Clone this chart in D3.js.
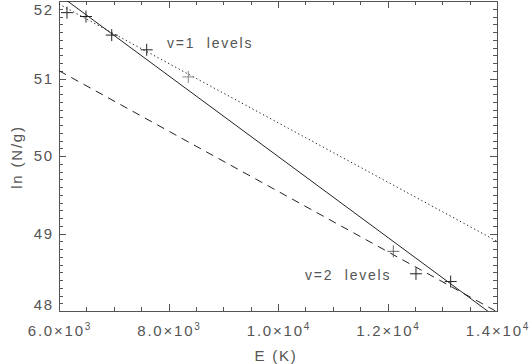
<!DOCTYPE html>
<html lang="en">
<head>
<meta charset="utf-8">
<title>ln(N/g) vs E</title>
<style>
    html, body {
        margin: 0;
        padding: 0;
        background-color: #fff;
    }
    text {
        font-family: "Liberation Sans", Arial, sans-serif;
        fill: #555;
        letter-spacing: 1.8px;
    }
    .axis path, .axis line {
        stroke: #555;
        shape-rendering: crispEdges;
    }
</style>
</head>
<body>
<div id="chart"></div>
<script src="https://d3js.org/d3.v7.min.js"></script>
<script>
// tick labels
var xTicks = [6000, 8000, 10000, 12000, 14000];
var yTicks = [48, 49, 50, 51, 52];
// measured points, v=1 and v=2 levels
var v1E = [6146, 6493, 6963, 7602, 8362];
var v1Ln = [51.85, 51.80, 51.56, 51.37, 51.02];
var v2E = [12106, 12520, 13154];
var v2Ln = [48.77, 48.48, 48.38];
// fitted lines (ends at E=6000 and E=14000)
var lineE = [6000, 14000];
var fitAll = [52.08, 47.91];
var fitV1 = [51.96, 48.90];
var fitV2 = [51.10, 47.99];
var labels = ["v=1  levels", "v=2  levels"];

var W = 532, H = 364;
var mar = {top: 1, right: 35, bottom: 53, left: 59};

var x = d3.scaleLinear().domain([6000, 14000]).range([mar.left, W - mar.right]);
var y = d3.scaleLinear().domain([48, 52]).range([H - mar.bottom, mar.top]);

var svg = d3.select("#chart").append("svg")
    .attr("width", W).attr("height", H);

svg.append("clipPath").attr("id", "clip")
    .append("rect")
    .attr("x", x.range()[0]).attr("y", y.range()[1])
    .attr("width", x.range()[1] - x.range()[0])
    .attr("height", y.range()[0] - y.range()[1]);

var minorX = d3.range(6000, 14001, 500);
var minorY = d3.range(48, 52.001, 0.1);

// axes, ticks point inward on all four sides
function addAxis(axis, tx, ty) {
    svg.append("g").attr("class", "axis")
        .attr("transform", "translate(" + tx + "," + ty + ")")
        .call(axis)
        .call(function(g) { g.selectAll("text").remove(); });
}
var yb = y.range()[0], yt = y.range()[1], xl = x.range()[0], xr = x.range()[1];
addAxis(d3.axisBottom(x).tickValues(xTicks).tickSizeInner(-7).tickSizeOuter(0), 0, yb);
addAxis(d3.axisBottom(x).tickValues(minorX).tickSizeInner(-4).tickSizeOuter(0), 0, yb);
addAxis(d3.axisTop(x).tickValues(xTicks).tickSizeInner(-7).tickSizeOuter(0), 0, yt);
addAxis(d3.axisTop(x).tickValues(minorX).tickSizeInner(-4).tickSizeOuter(0), 0, yt);
addAxis(d3.axisLeft(y).tickValues(yTicks).tickSizeInner(-7).tickSizeOuter(0), xl, 0);
addAxis(d3.axisLeft(y).tickValues(minorY).tickSizeInner(-4).tickSizeOuter(0), xl, 0);
addAxis(d3.axisRight(y).tickValues(yTicks).tickSizeInner(-7).tickSizeOuter(0), xr, 0);
addAxis(d3.axisRight(y).tickValues(minorY).tickSizeInner(-4).tickSizeOuter(0), xr, 0);

// x tick labels like 6.0x10^3
var xl_g = svg.append("g");
xTicks.forEach(function(v) {
    var s = d3.format(".1e")(v).split("e");
    var t = xl_g.append("text")
        .attr("x", x(v) + 1).attr("y", yb + 25)
        .attr("text-anchor", "middle")
        .attr("font-size", "15px");
    t.append("tspan").text(s[0] + "\u00d710");
    t.append("tspan").attr("dy", -6).attr("font-size", "10px").text(+s[1]);
});

// y tick labels (end labels pulled inside like the original)
svg.selectAll(".ylab")
    .data(yTicks)
    .enter().append("text")
    .attr("class", "ylab")
    .attr("x", xl - 5)
    .attr("y", function(d) { return Math.max(15, Math.min(310, y(d) + 5)); })
    .attr("text-anchor", "end")
    .attr("font-size", "15px")
    .text(function(d) { return d; });

// axis titles
svg.append("text")
    .attr("x", 276).attr("y", 361)
    .attr("text-anchor", "middle")
    .attr("font-size", "15px")
    .style("white-space", "pre")
    .text("E (K)");
svg.append("text")
    .attr("transform", "translate(22," + (y(50) + 1) + ") rotate(-90)")
    .attr("text-anchor", "middle")
    .attr("font-size", "15px")
    .text("ln (N/g)");

// fitted lines
var line = d3.line()
    .x(function(d) { return x(d[0]); })
    .y(function(d) { return y(d[1]); });
var plot = svg.append("g").attr("clip-path", "url(#clip)");
function fit(vals, dash) {
    plot.append("path")
        .datum(lineE.map(function(e, i) { return [e, vals[i]]; }))
        .attr("d", line)
        .attr("fill", "none")
        .attr("stroke", "#222")
        .attr("stroke-width", 1)
        .attr("stroke-dasharray", dash);
}
fit(fitAll, null);
fit(fitV1, "1.3,2.7");
fit(fitV2, "8,6");

// plus markers
var pts = v1E.map(function(e, i) { return {e: e, v: v1Ln[i], c: i == 4 ? "#888" : "#222"}; })
    .concat(v2E.map(function(e, i) { return {e: e, v: v2Ln[i], c: i == 0 ? "#666" : "#222"}; }));
svg.selectAll(".pt")
    .data(pts)
    .enter().append("path")
    .attr("class", "pt")
    .attr("d", "M-6,0H6M0,-6V6")
    .attr("transform", function(d) { return "translate(" + x(d.e) + "," + y(d.v) + ")"; })
    .attr("stroke", function(d) { return d.c; })
    .attr("stroke-width", 1);

// level labels (double space kept)
svg.append("text")
    .attr("x", 167).attr("y", 48)
    .attr("font-size", "14px")
    .style("white-space", "pre")
    .text(labels[0]);
svg.append("text")
    .attr("x", 305).attr("y", 280)
    .attr("font-size", "14px")
    .style("white-space", "pre")
    .text(labels[1]);
</script>
</body>
</html>
